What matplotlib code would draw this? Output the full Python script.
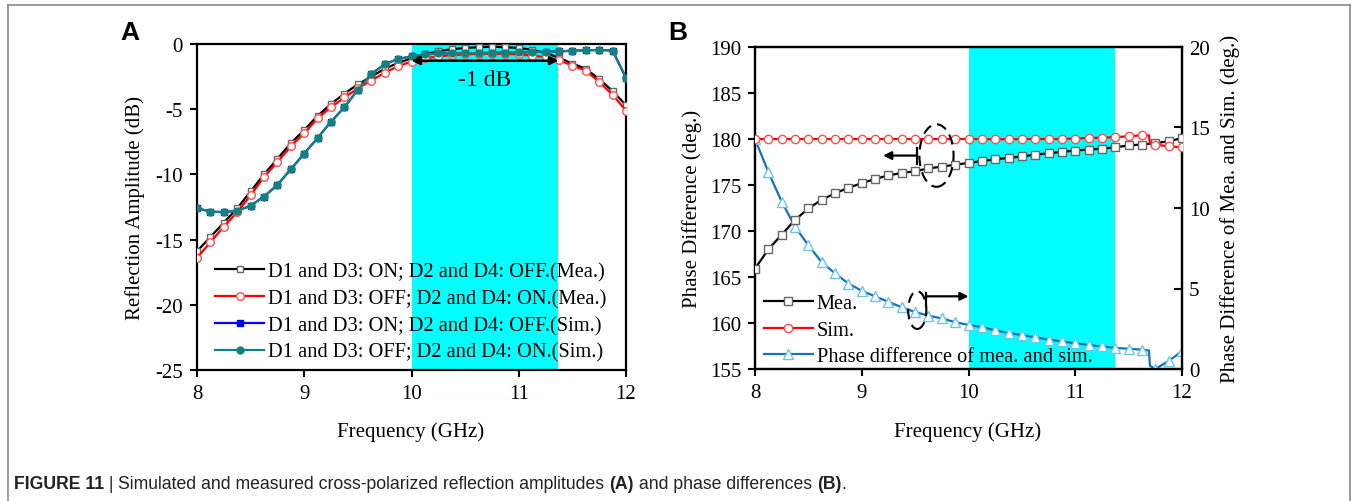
import matplotlib
matplotlib.use("Agg")
import matplotlib.pyplot as plt
from matplotlib.patches import Ellipse
from matplotlib.lines import Line2D

plt.rcParams['axes.unicode_minus'] = False

W, H = 1354, 502
DPI = 100

# ---------------- data ----------------
freq = [8.0, 8.125, 8.25, 8.375, 8.5, 8.625, 8.75, 8.875, 9.0, 9.125, 9.25, 9.375,
        9.5, 9.625, 9.75, 9.875, 10.0, 10.125, 10.25, 10.375, 10.5, 10.625, 10.75,
        10.875, 11.0, 11.125, 11.25, 11.375, 11.5, 11.625, 11.75, 11.875, 12.0]

# Panel A: reflection amplitude (dB)
mea_on = [-15.9, -14.8, -13.7, -12.6, -11.3, -10.0, -8.8, -7.6, -6.6, -5.5, -4.6, -3.8,
          -3.1, -2.5, -1.9, -1.45, -1.1, -0.8, -0.55, -0.4, -0.3, -0.25, -0.2,
          -0.25, -0.3, -0.45, -0.7, -1.05, -1.5, -1.9, -2.7, -3.6, -4.7]
mea_off = [-16.4, -15.2, -14.0, -12.9, -11.6, -10.2, -9.05, -7.85, -6.85, -5.7, -4.85, -4.1,
           -3.4, -2.8, -2.2, -1.7, -1.35, -1.1, -0.95, -0.85, -0.8, -0.75, -0.75,
           -0.75, -0.8, -0.9, -1.0, -1.25, -1.65, -2.05, -2.9, -3.9, -5.1]
sim_on = [-12.6, -12.85, -12.9, -12.8, -12.4, -11.7, -10.8, -9.6, -8.4, -7.2, -5.95, -4.85,
          -3.5, -2.3, -1.55, -1.15, -0.95, -0.8, -0.72, -0.7, -0.7, -0.7, -0.68,
          -0.66, -0.64, -0.62, -0.6, -0.56, -0.52, -0.48, -0.46, -0.5, -2.6]
sim_off = [-12.6, -12.85, -12.9, -12.8, -12.4, -11.7, -10.8, -9.6, -8.4, -7.2, -5.95, -4.85,
           -3.5, -2.3, -1.55, -1.15, -0.95, -0.8, -0.72, -0.7, -0.7, -0.7, -0.68,
           -0.66, -0.64, -0.62, -0.6, -0.56, -0.52, -0.48, -0.46, -0.5, -2.6]

# Panel B: phase difference (deg.)
phase_mea = [165.9, 168.0, 169.6, 171.2, 172.45, 173.4, 174.1, 174.7, 175.2, 175.65, 176.05,
             176.3, 176.5, 176.8, 177.0, 177.2, 177.4, 177.6, 177.8, 177.95, 178.1, 178.3,
             178.45, 178.6, 178.75, 178.85, 178.95, 179.1, 179.3, 179.4, 179.55, 179.75, 180.1]
freq_sim = [8.0, 8.125, 8.25, 8.375, 8.5, 8.625, 8.75, 8.875, 9.0, 9.125, 9.25, 9.375,
            9.5, 9.625, 9.75, 9.875, 10.0, 10.125, 10.25, 10.375, 10.5, 10.625, 10.75,
            10.875, 11.0, 11.125, 11.25, 11.375, 11.5, 11.625, 11.69, 11.70, 11.75, 11.875, 12.0]
phase_sim = [180.0, 180.0, 180.0, 180.0, 180.0, 180.0, 180.0, 180.0, 180.0, 180.0, 180.0, 180.0,
             180.0, 180.0, 180.0, 180.0, 180.0, 180.0, 179.95, 180.0, 180.0, 180.0, 180.0,
             180.0, 180.05, 180.1, 180.15, 180.2, 180.3, 180.4, 180.4, 179.5, 179.4, 179.2, 179.1]
sim_marks = [i for i in range(len(freq_sim)) if i not in (30, 31)]
# right axis: difference of mea. and sim. (deg.)
diff_ms = [14.29, 12.23, 10.4, 8.83, 7.69, 6.63, 5.94, 5.31, 4.86, 4.51, 4.17, 3.83,
           3.54, 3.31, 3.14, 2.91, 2.74, 2.6, 2.4, 2.23, 2.11, 1.97, 1.83, 1.71, 1.6,
           1.49, 1.4, 1.31, 1.26, 1.2, 1.15, 0.2, 0.0, 0.5, 1.1]

band = (10.0, 11.37)

labels_a = ["D1 and D3: ON; D2 and D4: OFF.(Mea.)",
            "D1 and D3: OFF; D2 and D4: ON.(Mea.)",
            "D1 and D3: ON; D2 and D4: OFF.(Sim.)",
            "D1 and D3: OFF; D2 and D4: ON.(Sim.)"]
labels_b = ["Mea.", "Sim.", "Phase difference of mea. and sim."]

# ---------------- style ----------------
SERIF = "Liberation Serif"
FS = 15.0
LEG_FS = 14.7
C_TEAL = "#15807f"
C_BLUE_B = "#1672b8"
C_TRI = "#6cc6e8"
lw = 1.6

fig = plt.figure(figsize=(W / DPI, H / DPI), dpi=DPI)


def fx(x):
    return x / W


def fy(y):
    return 1 - y / H


def style_axes(ax):
    for s in ax.spines.values():
        s.set_linewidth(1.6)
    ax.tick_params(direction="out", length=5, width=1.5, labelsize=FS, pad=5)
    for lab in ax.get_xticklabels() + ax.get_yticklabels():
        lab.set_fontfamily(SERIF)


# ---------------- panel A ----------------
axA = fig.add_axes([fx(197), fy(371), (626 - 197) / W, (371 - 45) / H])
axA.axvspan(band[0], band[1], color="#00ffff", lw=0, zorder=0)
axA.plot(freq, sim_on, color="#0000ff", lw=lw, marker="s", ms=4, mfc="#0000ff", mec="#0000ff", zorder=2)
axA.plot(freq, mea_on, color="black", lw=lw, marker="s", ms=5, mfc="white", mec="#666666", mew=1.0, zorder=3)
axA.plot(freq, mea_off, color="#ff0000", lw=lw, marker="o", ms=5.5, mfc="white", mec="#ff5050", mew=1.0, zorder=4)
axA.plot(freq, sim_off, color=C_TEAL, lw=lw, marker="o", ms=5, mfc=C_TEAL, mec=C_TEAL, zorder=5)
axA.set_xlim(8, 12)
axA.set_ylim(-25, 0)
axA.set_xticks([8, 9, 10, 11, 12])
axA.set_yticks([0, -5, -10, -15, -20, -25])
style_axes(axA)

axA.annotate("", xy=(band[0], -1.28), xytext=(band[1], -1.28),
             arrowprops=dict(arrowstyle="<|-|>", color="black", lw=1.8,
                             mutation_scale=12, shrinkA=0, shrinkB=0), zorder=6)
axA.text(10.68, -2.75, "-1 dB", fontfamily=SERIF, fontsize=17, ha="center", va="center", zorder=6)

hA = [Line2D([], [], color="black", lw=lw, marker="s", ms=5, mfc="white", mec="#666666"),
      Line2D([], [], color="#ff0000", lw=lw, marker="o", ms=5.5, mfc="white", mec="#ff5050"),
      Line2D([], [], color="#0000ff", lw=lw, marker="s", ms=4, mfc="#0000ff", mec="#0000ff"),
      Line2D([], [], color=C_TEAL, lw=lw, marker="o", ms=5, mfc=C_TEAL, mec=C_TEAL)]
axA.legend(hA, labels_a, loc="lower left", bbox_to_anchor=(0.042, 0.025), frameon=False,
           prop={"family": SERIF, "size": LEG_FS}, handlelength=2.4, handletextpad=0.2,
           labelspacing=0.37, borderaxespad=0.0, borderpad=0.0)

# ---------------- panel B ----------------
axB = fig.add_axes([fx(755), fy(370), (1182 - 755) / W, (370 - 48) / H])
axB.plot(freq, phase_mea, color="black", lw=lw, marker="s", ms=5.5, mfc="white", mec="#666666", mew=1.0, zorder=3)
axB.plot(freq_sim, phase_sim, color="#ff0000", lw=lw, marker="o", ms=6, mfc="white", mec="#ff5050",
         mew=1.0, markevery=sim_marks, zorder=4)
axB.set_xlim(8, 12)
axB.set_ylim(155, 190)
axB.set_xticks([8, 9, 10, 11, 12])
axB.set_yticks(list(range(155, 191, 5)))
style_axes(axB)

axR = axB.twinx()
axR.axvspan(band[0], band[1], color="#00ffff", lw=0, zorder=0)
axR.plot(freq_sim, diff_ms, color=C_BLUE_B, lw=lw, marker="^", ms=6.5, mfc="white", mec=C_TRI,
         mew=1.0, markevery=sim_marks, zorder=3)
axR.set_ylim(0, 20)
axR.set_yticks([0, 5, 10, 15, 20])
style_axes(axR)
axR.tick_params(axis="y", direction="in", length=6)
axB.set_zorder(axR.get_zorder() + 1)
axB.patch.set_visible(False)

# annotations in panel B (ellipses + arrows)
axB.add_patch(Ellipse((9.70, 178.2), 0.32, 6.8, fill=False, ec="black", lw=1.5,
                      ls=(0, (5, 3)), zorder=6))
axB.plot([9.52, 9.52], [177.3, 179.0], color="black", lw=1.6, zorder=6)
axB.annotate("", xy=(9.20, 178.2), xytext=(9.52, 178.2),
             arrowprops=dict(arrowstyle="-|>", color="black", lw=1.6, mutation_scale=12,
                             shrinkA=0, shrinkB=0), zorder=6)
axB.add_patch(Ellipse((9.52, 161.4), 0.17, 4.1, fill=False, ec="black", lw=1.5,
                      ls=(0, (5, 3)), zorder=6))
axB.plot([9.60, 9.60], [161.8, 163.3], color="black", lw=1.6, zorder=6)
axB.annotate("", xy=(10.0, 162.9), xytext=(9.60, 162.9),
             arrowprops=dict(arrowstyle="-|>", color="black", lw=1.6, mutation_scale=12,
                             shrinkA=0, shrinkB=0), zorder=6)

hB = [Line2D([], [], color="black", lw=lw, marker="s", ms=5.5, mfc="white", mec="#666666"),
      Line2D([], [], color="#ff0000", lw=lw, marker="o", ms=6, mfc="white", mec="#ff5050"),
      Line2D([], [], color=C_BLUE_B, lw=lw, marker="^", ms=6.5, mfc="white", mec=C_TRI)]
axB.legend(hB, labels_b, loc="lower left", bbox_to_anchor=(0.02, 0.008), frameon=False,
           prop={"family": SERIF, "size": LEG_FS}, handlelength=2.4, handletextpad=0.2,
           labelspacing=0.36, borderaxespad=0.0, borderpad=0.0)

# ---------------- labels ----------------
fig.text(fx(135), fy(208), "Reflection Amplitude (dB)", rotation=90, ha="center", va="center",
         fontfamily=SERIF, fontsize=FS)
fig.text(fx(411), fy(432), "Frequency (GHz)", ha="center", va="center", fontfamily=SERIF, fontsize=FS)
fig.text(fx(692), fy(209), "Phase Difference (deg.)", rotation=90, ha="center", va="center",
         fontfamily=SERIF, fontsize=FS)
fig.text(fx(968), fy(432), "Frequency (GHz)", ha="center", va="center", fontfamily=SERIF, fontsize=FS)
fig.text(fx(1230), fy(209), "Phase Difference of Mea. and Sim. (deg.)", rotation=90, ha="center",
         va="center", fontfamily=SERIF, fontsize=FS)

fig.text(fx(130), fy(33), "A", ha="center", va="center", fontfamily="Liberation Sans",
         fontweight="bold", fontsize=19)
fig.text(fx(678), fy(33), "B", ha="center", va="center", fontfamily="Liberation Sans",
         fontweight="bold", fontsize=19)

# frame
frame_c = "#8a8a8a"
fig.add_artist(Line2D([fx(8), fx(1350)], [fy(6), fy(6)], color=frame_c, lw=1.2))
fig.add_artist(Line2D([fx(8), fx(8)], [fy(6), fy(502)], color=frame_c, lw=1.2))
fig.add_artist(Line2D([fx(1350), fx(1350)], [fy(6), fy(502)], color=frame_c, lw=1.2))

# caption
CAP = "Liberation Sans"
pieces = [("FIGURE 11", "bold"), (" | ", "normal"),
          ("Simulated and measured cross-polarized reflection amplitudes ", "normal"),
          ("(A)", "bold"), (" and phase differences ", "normal"), ("(B)", "bold"), (".", "normal")]
fig.canvas.draw()
renderer = fig.canvas.get_renderer()


def place_caption(size):
    arts = []
    x = 14.0
    for txt, wt in pieces:
        t = fig.text(fx(x), fy(485), txt, ha="left", va="center", fontfamily=CAP,
                     fontweight=wt, fontsize=size, color="#222222")
        bb = t.get_window_extent(renderer)
        x += bb.width
        arts.append(t)
    return arts, x


arts, xend = place_caption(12)
scale = (848 - 14) / (xend - 14)
for a in arts:
    a.remove()
place_caption(12 * scale)

fig.savefig("out.png", dpi=DPI)
